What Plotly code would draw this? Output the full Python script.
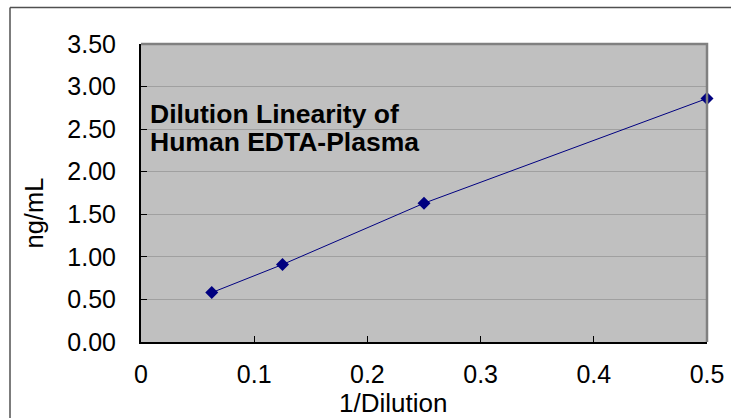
import plotly.graph_objects as go

dilution_inv = [0.0625, 0.125, 0.25, 0.5]
conc_ng_ml = [0.58, 0.91, 1.63, 2.86]
y_ticks = [0, 0.5, 1.0, 1.5, 2.0, 2.5, 3.0, 3.5]
y_tick_labels = ["0.00", "0.50", "1.00", "1.50", "2.00", "2.50", "3.00", "3.50"]
x_ticks = [0, 0.1, 0.2, 0.3, 0.4, 0.5]
x_tick_labels = ["0", "0.1", "0.2", "0.3", "0.4", "0.5"]

W, H = 739, 418
L, R, T, B = 141, 32, 44, 76
pw, ph = W - L - R, H - T - B

def px(x):
    return (x - L) / pw

def py(y):
    return (H - B - y) / ph

FONT = "Liberation Sans, Arial, sans-serif"

fig = go.Figure()
fig.add_trace(go.Scatter(
    x=dilution_inv, y=conc_ng_ml, mode="lines+markers",
    line=dict(color="#000080", width=1),
    marker=dict(symbol="diamond", size=10, color="#000080"),
    showlegend=False, cliponaxis=False,
))

fig.update_layout(
    width=W, height=H,
    margin=dict(l=L, r=R, t=T, b=B),
    paper_bgcolor="white",
    plot_bgcolor="#c0c0c0",
    font=dict(family=FONT, size=25, color="black"),
    xaxis=dict(
        range=[0, 0.5], tickvals=x_ticks, ticktext=x_tick_labels,
        showgrid=False, zeroline=False,
        showline=True, linecolor="black", linewidth=2,
        ticks="inside", ticklen=6, tickcolor="black", tickwidth=1,
        tickfont=dict(size=25), ticklabelstandoff=9,
    ),
    yaxis=dict(
        range=[0, 3.5], tickvals=y_ticks, ticktext=y_tick_labels,
        showgrid=True, gridcolor="#a0a0a0", gridwidth=1, zeroline=False,
        showline=True, linecolor="black", linewidth=2,
        ticks="inside", ticklen=6, tickcolor="black", tickwidth=1,
        tickfont=dict(size=25), ticklabelstandoff=18,
    ),
)

# plot area top/right border (gray)
fig.add_shape(type="path", xref="paper", yref="paper",
              path="M 0,1 L 1,1 L 1,0",
              line=dict(color="#808080", width=2.5), layer="above")
# chart-area frame (partially visible)
fig.add_shape(type="line", xref="paper", yref="paper",
              x0=px(10), x1=px(731), y0=py(7.5), y1=py(7.5),
              line=dict(color="#505050", width=1.5))
fig.add_shape(type="line", xref="paper", yref="paper",
              x0=px(10), x1=px(10), y0=py(7.5), y1=py(440),
              line=dict(color="#505050", width=1.5))

# annotation title inside plot
fig.add_annotation(text="<b>Dilution Linearity of</b>", xref="paper", yref="paper",
                   x=px(148), y=py(131), xanchor="left", yanchor="bottom",
                   showarrow=False, font=dict(size=26.5, family=FONT))
fig.add_annotation(text="<b>Human EDTA-Plasma</b>", xref="paper", yref="paper",
                   x=px(148), y=py(159), xanchor="left", yanchor="bottom",
                   showarrow=False, font=dict(size=26.5, family=FONT))

# axis titles
fig.add_annotation(text="1/Dilution", xref="paper", yref="paper",
                   x=px(393), y=py(403), xanchor="center", yanchor="middle",
                   showarrow=False, font=dict(size=26, family=FONT))
fig.add_annotation(text="ng/mL", xref="paper", yref="paper",
                   x=px(34), y=py(213.5), xanchor="center", yanchor="middle",
                   textangle=-90, showarrow=False, font=dict(size=25.5, family=FONT))

fig.write_html("out.html", config={"displayModeBar": False},
               post_script="document.body.style.margin='0';document.body.style.overflow='hidden';")
